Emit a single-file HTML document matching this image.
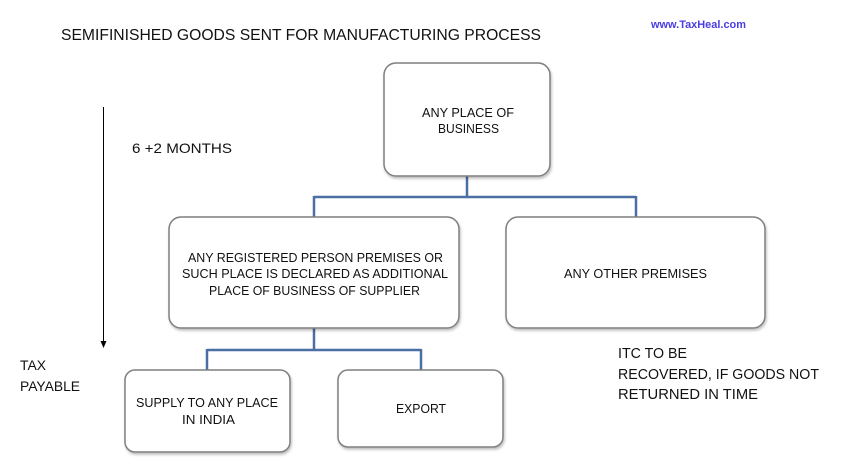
<!DOCTYPE html>
<html>
<head>
<meta charset="utf-8">
<style>
html,body{margin:0;padding:0;background:#fff;}
svg{display:block;}
text{font-family:"Liberation Sans",sans-serif;fill:#111;}
</style>
</head>
<body>
<svg width="842" height="463" viewBox="0 0 842 463" xmlns="http://www.w3.org/2000/svg">
<defs>
<filter id="sh" x="-10%" y="-10%" width="120%" height="130%">
<feDropShadow dx="1" dy="2" stdDeviation="1.2" flood-color="#000" flood-opacity="0.25"/>
</filter>
</defs>

<!-- title -->
<text x="61" y="40" font-size="15.5" textLength="480" lengthAdjust="spacingAndGlyphs">SEMIFINISHED GOODS SENT FOR MANUFACTURING  PROCESS</text>
<text x="651" y="28" font-size="11" font-weight="bold" style="fill:#4a3ee0" textLength="95" lengthAdjust="spacingAndGlyphs">www.TaxHeal.com</text>

<!-- timeline arrow -->
<line x1="103.5" y1="107" x2="103.5" y2="342" stroke="#000" stroke-width="1"/>
<polygon points="100.5,341 106.5,341 103.5,348" fill="#000"/>
<text x="132" y="153" font-size="14" textLength="100" lengthAdjust="spacingAndGlyphs">6 +2 MONTHS</text>
<text x="20" y="370" font-size="14" textLength="26" lengthAdjust="spacingAndGlyphs">TAX</text>
<text x="20" y="391" font-size="14" textLength="60" lengthAdjust="spacingAndGlyphs">PAYABLE</text>

<!-- connectors -->
<g stroke="#4a6fa5" stroke-width="2.5" fill="none">
<path d="M467 176 V197 M314 197 H636 M314 196 V217 M636 196 V217"/>
<path d="M314 328 V350 M207 350 H421 M207 349 V370 M421 349 V370"/>
</g>

<!-- boxes -->
<g fill="#fff" stroke="#7f7f7f" stroke-width="1.5" filter="url(#sh)">
<rect x="384" y="63" width="166" height="113" rx="12"/>
<rect x="169" y="217" width="290" height="111" rx="12"/>
<rect x="506" y="217" width="259" height="111" rx="12"/>
<rect x="125" y="370" width="165" height="82" rx="10"/>
<rect x="338" y="370" width="165" height="77" rx="10"/>
</g>

<!-- box text -->
<g font-size="13">
<text x="422" y="117" textLength="92" lengthAdjust="spacingAndGlyphs">ANY PLACE OF</text>
<text x="438" y="133" textLength="61" lengthAdjust="spacingAndGlyphs">BUSINESS</text>

<text x="188" y="262" textLength="255" lengthAdjust="spacingAndGlyphs">ANY REGISTERED PERSON PREMISES OR</text>
<text x="182" y="278" textLength="266" lengthAdjust="spacingAndGlyphs">SUCH PLACE IS DECLARED AS ADDITIONAL</text>
<text x="209" y="295" textLength="211" lengthAdjust="spacingAndGlyphs">PLACE OF BUSINESS OF SUPPLIER</text>

<text x="564" y="278" textLength="143" lengthAdjust="spacingAndGlyphs">ANY OTHER PREMISES</text>

<text x="136" y="407" textLength="142" lengthAdjust="spacingAndGlyphs">SUPPLY TO ANY PLACE</text>
<text x="182" y="424" textLength="53" lengthAdjust="spacingAndGlyphs">IN INDIA</text>

<text x="396" y="413" textLength="50" lengthAdjust="spacingAndGlyphs">EXPORT</text>
</g>

<!-- ITC note -->
<g font-size="14.5">
<text x="618" y="358" textLength="69" lengthAdjust="spacingAndGlyphs">ITC TO BE</text>
<text x="618" y="379" textLength="201" lengthAdjust="spacingAndGlyphs">RECOVERED, IF GOODS NOT</text>
<text x="618" y="399" textLength="140" lengthAdjust="spacingAndGlyphs">RETURNED IN TIME</text>
</g>
</svg>
</body>
</html>
